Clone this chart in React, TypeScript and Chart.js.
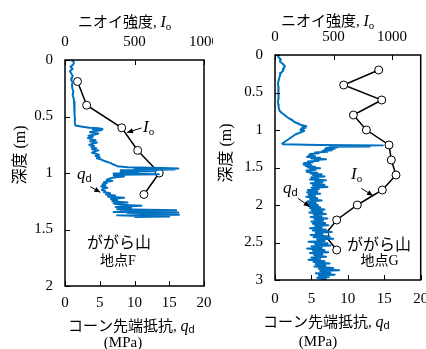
import React, { useEffect, useRef } from "react";
import { Chart, registerables } from "chart.js";

Chart.register(...registerables);

// ---------- data ----------
const leftIoDepth = [0.19, 0.4, 0.6, 0.8, 1.0, 1.19];
const leftIo = [90, 156, 408, 523, 678, 568];

const rightIoDepth = [0.2, 0.4, 0.6, 0.8, 1.0, 1.2, 1.4, 1.6, 1.8, 2.0, 2.2, 2.4, 2.6];
const rightIo = [886, 587, 912, 670, 781, 974, 994, 1034, 917, 703, 527, 425, 527];

const leftQdDepth = [
  0.0, 0.02, 0.04, 0.06, 0.08, 0.1, 0.12, 0.14, 0.16, 0.18, 0.2, 0.22, 0.25, 0.28, 0.31, 0.34, 0.37, 0.4,
  0.43, 0.46, 0.49, 0.52, 0.55, 0.58, 0.59, 0.6, 0.605, 0.61, 0.615, 0.62, 0.63, 0.64, 0.65, 0.66, 0.67,
  0.68, 0.69, 0.7, 0.71, 0.72, 0.73, 0.74, 0.75, 0.76, 0.77, 0.78, 0.79, 0.8, 0.81, 0.82, 0.83, 0.84, 0.85,
  0.86, 0.87, 0.88, 0.89, 0.9, 0.91, 0.92, 0.93, 0.94, 0.95, 0.955, 0.96, 0.965, 0.97, 0.975, 0.98, 0.985,
  0.99, 1.0, 1.005, 1.01, 1.015, 1.02, 1.03, 1.04, 1.05, 1.06, 1.07, 1.08, 1.09, 1.1, 1.11, 1.12, 1.13,
  1.14, 1.15, 1.16, 1.17, 1.18, 1.19, 1.2, 1.21, 1.22, 1.23, 1.24, 1.25, 1.26, 1.27, 1.28, 1.29, 1.3, 1.31,
  1.32, 1.33, 1.335, 1.34, 1.345, 1.35, 1.355, 1.36, 1.37, 1.375, 1.38, 1.385, 1.39,
];
const leftQd = [
  0.9, 1.3, 1.2, 0.8, 1.1, 0.7, 0.9, 1.1, 1.0, 0.9, 1.1, 1.0, 1.05, 1.2, 1.1, 1.25, 1.3, 1.35,
  1.4, 1.4, 1.35, 1.45, 1.4, 1.5, 2.5, 3.5, 4.8, 5.4, 4.0, 5.3, 4.2, 3.6, 4.8, 4.3, 3.4,
  4.0, 3.3, 3.8, 4.4, 3.6, 4.6, 4.0, 3.5, 4.2, 3.8, 4.5, 3.9, 4.8, 4.2, 3.9, 4.5, 4.9, 4.4,
  5.0, 4.6, 5.2, 5.5, 6.0, 6.5, 6.8, 7.2, 7.5, 9.0, 14.0, 16.3, 10.0, 15.8, 8.0, 9.5, 13.0,
  8.0, 10.5, 7.0, 13.5, 8.0, 7.0, 8.5, 7.0, 6.4, 6.0, 6.8, 5.6, 6.0, 5.4, 5.8, 5.2, 6.1,
  5.5, 5.3, 5.8, 5.6, 6.5, 5.9, 7.2, 6.2, 8.5, 6.6, 7.5, 6.8, 9.0, 7.0, 8.0, 11.0, 7.3, 9.5,
  7.5, 16.0, 8.0, 13.0, 7.0, 16.3, 9.0, 12.0, 16.4, 7.5, 11.0, 15.0, 10.0,
];

const rightQdDepth = [
  0.0, 0.03, 0.06, 0.09, 0.12, 0.15, 0.18, 0.21, 0.24, 0.27, 0.3, 0.34, 0.38, 0.42, 0.46, 0.5, 0.54, 0.58,
  0.62, 0.66, 0.7, 0.74, 0.77, 0.8, 0.83, 0.85, 0.87, 0.89, 0.91, 0.93, 0.94, 0.95, 0.96, 0.97, 0.98, 0.99,
  1.0, 1.01, 1.02, 1.04, 1.06, 1.08, 1.1, 1.12, 1.14, 1.16, 1.18, 1.19, 1.2, 1.205, 1.21, 1.215, 1.22,
  1.225, 1.23, 1.24, 1.25, 1.26, 1.27, 1.28, 1.29, 1.3, 1.31, 1.32, 1.33, 1.34, 1.35, 1.36, 1.37, 1.38,
  1.39, 1.4, 1.41, 1.42, 1.43, 1.44, 1.45, 1.46, 1.47, 1.48, 1.49, 1.5, 1.51, 1.52, 1.53, 1.54, 1.55,
  1.56, 1.57, 1.58, 1.59, 1.6, 1.62, 1.63, 1.64, 1.66, 1.67, 1.68, 1.7, 1.71, 1.73, 1.74, 1.76, 1.77,
  1.79, 1.8, 1.82, 1.83, 1.85, 1.86, 1.88, 1.89, 1.91, 1.92, 1.94, 1.95, 1.97, 1.98, 2.0, 2.01, 2.03,
  2.04, 2.06, 2.07, 2.09, 2.1, 2.12, 2.13, 2.15, 2.16, 2.18, 2.19, 2.21, 2.22, 2.24, 2.25, 2.27, 2.28,
  2.3, 2.31, 2.33, 2.34, 2.36, 2.37, 2.39, 2.4, 2.42, 2.43, 2.45, 2.46, 2.48, 2.49, 2.51, 2.52, 2.54,
  2.55, 2.57, 2.58, 2.6, 2.61, 2.63, 2.64, 2.66, 2.67, 2.69, 2.7, 2.72, 2.73, 2.75, 2.76, 2.78, 2.79,
  2.81, 2.82, 2.84, 2.85, 2.87, 2.88, 2.9, 2.91, 2.93, 2.94, 2.96, 2.97, 2.99, 3.0,
];
const rightQd = [
  0.3, 0.5, 0.8, 0.7, 1.1, 1.35, 1.2, 1.1, 0.8, 0.7, 0.6, 0.5, 0.4, 0.45, 0.5, 0.5, 0.45, 0.5,
  0.4, 0.45, 0.5, 0.6, 0.9, 1.3, 1.7, 2.0, 2.4, 2.6, 3.1, 3.5, 3.9, 4.3, 3.8, 4.2, 3.6, 3.9,
  3.5, 4.0, 3.8, 3.3, 2.8, 2.5, 2.2, 1.9, 1.6, 1.3, 1.0, 1.1, 6.0, 14.8, 10.0, 8.5, 13.0,
  7.5, 8.6, 7.0, 8.2, 6.8, 7.8, 6.5, 7.2, 5.5, 6.0, 4.8, 5.2, 4.6, 5.5, 4.4, 6.2, 5.0,
  7.0, 5.4, 6.0, 4.5, 5.2, 4.0, 4.8, 3.9, 5.0, 4.2, 5.5, 4.5, 6.2, 4.8, 5.6, 4.3, 5.0,
  4.4, 5.8, 4.9, 6.4, 5.2, 6.8, 5.0, 6.0, 4.8, 7.0, 5.5, 6.5, 4.9, 6.8, 5.2, 7.2, 5.0,
  6.0, 4.5, 5.8, 4.4, 6.2, 4.6, 5.5, 4.3, 5.8, 4.8, 6.4, 4.5, 5.6, 4.4, 5.9, 4.6, 6.2,
  4.8, 6.8, 5.0, 6.5, 4.7, 7.0, 5.3, 6.4, 4.9, 7.2, 5.4, 6.6, 5.0, 6.9, 5.2, 7.3, 5.5,
  6.4, 4.8, 7.0, 5.2, 7.8, 5.6, 6.5, 4.9, 7.5, 5.3, 8.0, 5.8, 6.8, 4.6, 7.2, 5.5, 7.6,
  5.0, 6.4, 4.4, 6.8, 5.2, 7.3, 4.8, 6.5, 5.4, 7.0, 5.0, 6.2, 4.6, 6.8, 5.3, 7.5, 5.6,
  6.9, 5.4, 8.0, 6.0, 8.8, 6.2, 7.6, 5.6, 8.2, 6.0, 7.4, 5.8, 7.0, 6.4,
];

const qdTickValues = [0, 5, 10, 15, 20];
const ioTickValues = [0, 500, 1000];
const leftDepthTicks = [0, 0.5, 1, 1.5, 2];
const rightDepthTicks = [0, 0.5, 1, 1.5, 2, 2.5, 3];

const unitBottom = "(MPa)";
const yTitle = "深度 (m)";
const siteName = "ががら山";

// ---------- styles ----------
const BLUE = "#0070C0";
const SERIF = '"Liberation Serif", "Times New Roman", serif';
const CJK = '"Noto Sans CJK JP", sans-serif';
const MIX = '"Liberation Serif", "Noto Sans CJK JP", serif';
const SANS = '"Liberation Sans", Arial, sans-serif';

type Seg = { t: string; font: string; dy?: number };

function drawRich(ctx: CanvasRenderingContext2D, x: number, y: number, segs: Seg[]) {
  let cx = x;
  for (const s of segs) {
    ctx.font = s.font;
    ctx.textAlign = "left";
    ctx.textBaseline = "alphabetic";
    ctx.fillText(s.t, cx, y + (s.dy || 0));
    cx += ctx.measureText(s.t).width;
  }
}

function arrow(ctx: CanvasRenderingContext2D, x1: number, y1: number, x2: number, y2: number) {
  ctx.beginPath();
  ctx.moveTo(x1, y1);
  ctx.lineTo(x2, y2);
  ctx.lineWidth = 1;
  ctx.strokeStyle = "#000";
  ctx.stroke();
  const a = Math.atan2(y2 - y1, x2 - x1);
  const L = 6, W = 2.6;
  ctx.beginPath();
  ctx.moveTo(x2, y2);
  ctx.lineTo(x2 - L * Math.cos(a) + W * Math.sin(a), y2 - L * Math.sin(a) - W * Math.cos(a));
  ctx.lineTo(x2 - L * Math.cos(a) - W * Math.sin(a), y2 - L * Math.sin(a) + W * Math.cos(a));
  ctx.closePath();
  ctx.fillStyle = "#000";
  ctx.fill();
}

type Spec = {
  id: string;
  left: number;
  ioDepth: number[];
  io: number[];
  qdDepth: number[];
  qd: number[];
  depthTicks: number[];
  yMax: number;
  ioMax: number;
  yAxisW: number;
  topH: number;
  bottomH: number;
  padRight: number;
  bottomTickPad: number;
  site: string;
  txt: {
    top: [number, number];
    bottom: [number, number];
    mpa: [number, number];
    yT: [number, number];
    site: [number, number];
    point: [number, number];
    I: [number, number];
    Iarrow: [number, number, number, number];
    q: [number, number];
    qarrow: [number, number, number, number];
  };
};

function overlay(spec: Spec) {
  return {
    id: "overlay_" + spec.id,
    afterDraw(chart: any) {
      const ctx: CanvasRenderingContext2D = chart.ctx;
      const a = chart.chartArea;
      ctx.save();
      ctx.strokeStyle = "#000";
      ctx.lineWidth = 1.5;
      ctx.strokeRect(a.left, a.top, a.right - a.left, a.bottom - a.top);
      ctx.lineWidth = 1;
      const TL = 5;
      const ys = chart.scales.y;
      ys.ticks.forEach((t: any) => {
        const p = Math.round(ys.getPixelForValue(t.value)) + 0.5;
        ctx.beginPath();
        ctx.moveTo(a.left, p);
        ctx.lineTo(a.left + TL, p);
        ctx.stroke();
      });
      const xq = chart.scales.xq;
      xq.ticks.forEach((t: any) => {
        const p = Math.round(xq.getPixelForValue(t.value)) + 0.5;
        ctx.beginPath();
        ctx.moveTo(p, a.bottom);
        ctx.lineTo(p, a.bottom - TL);
        ctx.stroke();
      });
      const xi = chart.scales.xi;
      xi.ticks.forEach((t: any) => {
        const p = Math.round(xi.getPixelForValue(t.value)) + 0.5;
        ctx.beginPath();
        ctx.moveTo(p, a.top);
        ctx.lineTo(p, a.top + TL);
        ctx.stroke();
      });

      ctx.fillStyle = "#000";
      const T = spec.txt;
      drawRich(ctx, T.top[0], T.top[1], [
        { t: "ニオイ強度", font: `15px ${CJK}` },
        { t: ", ", font: `15px ${SERIF}` },
        { t: "I", font: `italic 16px ${SERIF}` },
        { t: "o", font: `11px ${SERIF}`, dy: 3 },
      ]);
      drawRich(ctx, T.bottom[0], T.bottom[1], [
        { t: "コーン先端抵抗", font: `15px ${CJK}` },
        { t: ", ", font: `15px ${SERIF}` },
        { t: "q", font: `italic 16px ${SERIF}` },
        { t: "d", font: `11px ${SANS}`, dy: 2 },
      ]);
      ctx.font = `15px ${SERIF}`;
      ctx.textAlign = "center";
      ctx.textBaseline = "middle";
      ctx.fillText(unitBottom, T.mpa[0], T.mpa[1]);
      ctx.save();
      ctx.translate(T.yT[0], T.yT[1]);
      ctx.rotate(-Math.PI / 2);
      ctx.font = `16px ${MIX}`;
      ctx.textAlign = "center";
      ctx.textBaseline = "middle";
      ctx.fillText(yTitle, 0, 0);
      ctx.restore();
      ctx.font = `16px ${CJK}`;
      ctx.textAlign = "center";
      ctx.textBaseline = "middle";
      ctx.fillText(siteName, T.site[0], T.site[1]);
      ctx.font = `14px ${MIX}`;
      ctx.fillText(spec.site, T.point[0], T.point[1]);
      drawRich(ctx, T.I[0], T.I[1], [
        { t: "I", font: `italic 17px ${SERIF}` },
        { t: "o", font: `11px ${SERIF}`, dy: 3 },
      ]);
      arrow(ctx, T.Iarrow[0], T.Iarrow[1], T.Iarrow[2], T.Iarrow[3]);
      drawRich(ctx, T.q[0], T.q[1], [
        { t: "q", font: `italic 17px ${SERIF}` },
        { t: "d", font: `11px ${SANS}`, dy: 3 },
      ]);
      arrow(ctx, T.qarrow[0], T.qarrow[1], T.qarrow[2], T.qarrow[3]);
      ctx.restore();
    },
  };
}

const fmt = (v: any) => String(v);

function Panel({ spec }: { spec: Spec }) {
  const ref = useRef<HTMLCanvasElement>(null);
  useEffect(() => {
    const c = ref.current;
    if (!c) return;
    const tickFont = { family: SERIF, size: 15 };
    const chart = new Chart(c, {
      type: "scatter",
      data: {
        datasets: [
          {
            label: "qd",
            data: spec.qdDepth.map((d, i) => ({ x: spec.qd[i], y: d })),
            xAxisID: "xq",
            yAxisID: "y",
            showLine: true,
            borderColor: BLUE,
            backgroundColor: BLUE,
            borderWidth: 2,
            pointRadius: 0,
            borderJoinStyle: "round",
          } as any,
          {
            label: "Io",
            data: spec.ioDepth.map((d, i) => ({ x: spec.io[i], y: d })),
            xAxisID: "xi",
            yAxisID: "y",
            showLine: true,
            borderColor: "#000",
            borderWidth: 1.5,
            pointRadius: 4,
            pointBackgroundColor: "#fff",
            pointBorderColor: "#000",
            pointBorderWidth: 1,
          } as any,
        ],
      },
      options: {
        responsive: false,
        animation: false,
        devicePixelRatio: 1,
        layout: { padding: { left: 0, right: spec.padRight, top: 0, bottom: 0 } },
        plugins: { legend: { display: false }, tooltip: { enabled: false } },
        scales: {
          y: {
            type: "linear",
            position: "left",
            reverse: true,
            min: 0,
            max: spec.yMax,
            afterBuildTicks: (s: any) => {
              s.ticks = spec.depthTicks.map((v) => ({ value: v }));
            },
            ticks: { font: tickFont, color: "#000", padding: 12, callback: fmt },
            grid: { display: false, drawTicks: false },
            border: { display: false },
            afterFit: (s: any) => {
              s.width = spec.yAxisW;
              s.paddingTop = 0;
              s.paddingBottom = 0;
            },
          },
          xq: {
            type: "linear",
            position: "bottom",
            min: 0,
            max: 20,
            afterBuildTicks: (s: any) => {
              s.ticks = qdTickValues.map((v) => ({ value: v }));
            },
            ticks: { font: tickFont, color: "#000", padding: spec.bottomTickPad, maxRotation: 0, autoSkip: false, callback: fmt },
            grid: { display: false, drawTicks: false },
            border: { display: false },
            afterFit: (s: any) => {
              s.height = spec.bottomH;
              s.paddingLeft = 0;
              s.paddingRight = 0;
            },
          },
          xi: {
            type: "linear",
            position: "top",
            min: 0,
            max: spec.ioMax,
            afterBuildTicks: (s: any) => {
              s.ticks = ioTickValues.map((v) => ({ value: v }));
            },
            ticks: { font: tickFont, color: "#000", padding: 9, maxRotation: 0, autoSkip: false, callback: fmt },
            grid: { display: false, drawTicks: false },
            border: { display: false },
            afterFit: (s: any) => {
              s.height = spec.topH;
              s.paddingLeft = 0;
              s.paddingRight = 0;
            },
          },
        } as any,
      },
      plugins: [overlay(spec)],
    });
    return () => chart.destroy();
  }, [spec]);
  return (
    <canvas
      ref={ref}
      width={213}
      height={349}
      style={{ position: "absolute", left: spec.left, top: 0, width: 213, height: 349 }}
    />
  );
}

const leftSpec: Spec = {
  id: "F",
  left: 0,
  ioDepth: leftIoDepth,
  io: leftIo,
  qdDepth: leftQdDepth,
  qd: leftQd,
  depthTicks: leftDepthTicks,
  yMax: 2,
  ioMax: 1000,
  yAxisW: 65,
  topH: 60,
  bottomH: 63,
  padRight: 9,
  bottomTickPad: 8,
  site: "地点F",
  txt: {
    top: [78, 26.5],
    bottom: [68, 330.5],
    mpa: [123, 343],
    yT: [20.5, 155],
    site: [119, 242],
    point: [118, 261],
    I: [143, 132],
    Iarrow: [141.5, 128, 127, 132.5],
    q: [77, 178.5],
    qarrow: [90.3, 186.7, 100.3, 192.3],
  },
};

const rightSpec: Spec = {
  id: "G",
  left: 213,
  ioDepth: rightIoDepth,
  io: rightIo,
  qdDepth: rightQdDepth,
  qd: rightQd,
  depthTicks: rightDepthTicks,
  yMax: 3,
  ioMax: 1245,
  yAxisW: 62,
  topH: 55,
  bottomH: 69,
  padRight: 5.3,
  bottomTickPad: 10,
  site: "地点G",
  txt: {
    top: [68, 26],
    bottom: [50, 327],
    mpa: [105, 342],
    yT: [14, 153],
    site: [166, 244],
    point: [166.5, 261],
    I: [138, 179],
    Iarrow: [148.3, 188.3, 160, 195.7],
    q: [70, 193],
    qarrow: [85, 198.3, 96.7, 206.7],
  },
};

export default function App() {
  return (
    <div style={{ position: "absolute", left: 0, top: 0, width: 426, height: 349, overflow: "hidden", background: "#fff" }}>
      <Panel spec={leftSpec} />
      <Panel spec={rightSpec} />
    </div>
  );
}
